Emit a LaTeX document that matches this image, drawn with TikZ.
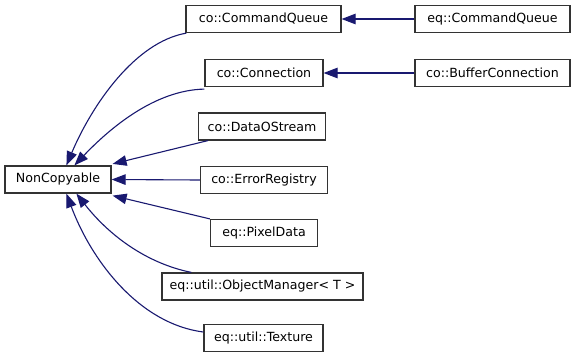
\documentclass[tikz,border=0pt]{standalone}
\usepackage{fontspec}
\setmainfont{DejaVu Sans}
\usetikzlibrary{arrows.meta}
\definecolor{edgeblue}{RGB}{25,25,112}
\tikzset{
  cls/.style={draw=black!80, line width=1.2pt, fill=white, rectangle,
    minimum height=27pt, inner sep=0pt, font=\fontsize{12.6}{14}\selectfont},
  inherit/.style={draw=edgeblue, line width=1.1pt,
    -{Triangle[length=14pt,width=10.5pt]}}
}
\begin{document}
\begin{tikzpicture}[x=1pt,y=-1pt]
\useasboundingbox (0,0) rectangle (576,360);

% base class
\node[cls, minimum width=106pt] (nc) at (58,179.5) {NonCopyable};

% derived classes
\node[cls, minimum width=155pt] (cq)   at (263.5,19)  {co::CommandQueue};
\node[cls, minimum width=155pt] (eqcq) at (492.5,19)  {eq::CommandQueue};
\node[cls, minimum width=118pt] (conn) at (264,73)    {co::Connection};
\node[cls, minimum width=155pt] (bc)   at (492.5,73)  {co::BufferConnection};
\node[cls, minimum width=127pt] (dos)  at (262,126.5) {co::DataOStream};
\node[cls, minimum width=127pt] (er)   at (264,180)   {co::ErrorRegistry};
\node[cls, minimum width=107pt] (pd)   at (264,233)   {eq::PixelData};
\node[cls, minimum width=201pt] (om)   at (262.5,286.5) {eq::util::ObjectManager< T >};
\node[cls, minimum width=119pt] (tex)  at (263.5,338) {eq::util::Texture};

% second-level inheritance
\draw[inherit] (eqcq.west) -- (cq.east);
\draw[inherit] (bc.west) -- (conn.east);

% edges into NonCopyable
\draw[inherit] ([xshift=1pt]cq.south west)
  .. controls (135,42) and (92,105) .. ([xshift=62pt]nc.north west);
\draw[inherit] ([yshift=-2pt]conn.south west)
  .. controls (155,90) and (110,128) .. ([xshift=70pt]nc.north west);
\draw[inherit] ([xshift=10pt]dos.south west) -- ([xshift=1pt,yshift=1.5pt]nc.north east);
\draw[inherit] (er.west) -- (nc.east);
\draw[inherit] (pd.north west) -- ([xshift=1pt,yshift=-2pt]nc.south east);
\draw[inherit] ([xshift=30pt]om.north west)
  .. controls (145,263) and (108,234) .. ([xshift=72pt]nc.south west);
\draw[inherit] ([yshift=6pt]tex.west)
  .. controls (140,324) and (92,262) .. ([xshift=62pt]nc.south west);
\end{tikzpicture}
\end{document}
